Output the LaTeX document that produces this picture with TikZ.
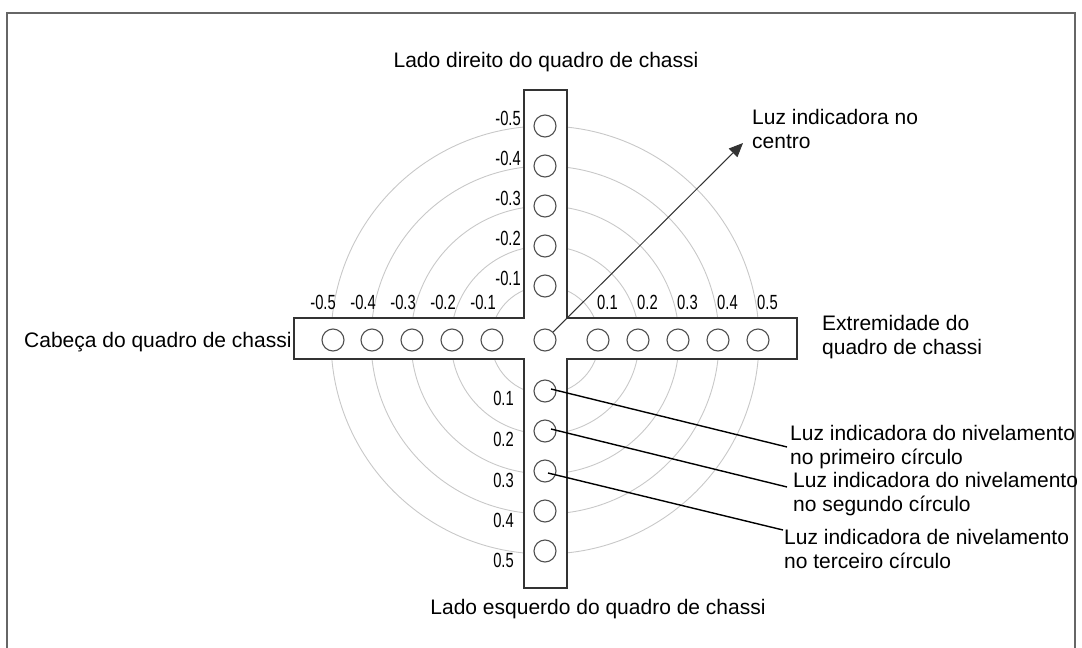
\documentclass[tikz,border=0pt]{standalone}
\usepackage{fontspec}
\setmainfont{Liberation Sans}
\newfontfamily\chsnarrow[FakeStretch=0.72]{Liberation Sans}
\usepackage{xcolor}
\usepackage{tikz}
\usetikzlibrary{arrows.meta,calc}
\definecolor{chsEdge}{HTML}{333333}
\definecolor{chsLampEdge}{HTML}{505050}
\definecolor{chsRing}{HTML}{C8C8C8}
\definecolor{chsFrame}{HTML}{666666}
\tikzset{
  chslamp/.style={circle,draw=chsLampEdge,line width=1.1pt,minimum size=22pt,inner sep=0pt},
  chsbar/.style={draw=chsEdge,line width=1.3pt,fill=white},
  chsring/.style={draw=chsRing,line width=0.9pt},
  chstxt/.style={font=\fontsize{21}{24.5}\selectfont,text=black,inner sep=0pt,align=left},
  chsnum/.style={font=\chsnarrow\fontsize{20.5}{20.5}\selectfont,text=black,inner sep=0pt},
  chslead/.style={draw=black,line width=1.4pt},
  chsarrow/.style={-{Triangle[length=14pt,width=12pt]},draw=chsEdge,line width=1pt},
  chsframe/.style={draw=chsFrame,line width=1.6pt},
}
\begin{document}
\begin{tikzpicture}[x=1pt,y=-1pt]
  \useasboundingbox (0,0) rectangle (1082,648);
  \draw[chsframe] (7,660) -- (7,13) -- (1075,13) -- (1075,660);

  % level rings round the centre lamp
  \foreach \r in {54,94,134,174,214}
    \draw[chsring] (545,340) circle[radius=\r pt];

  % chassis cross
  \draw[chsbar] (294,318) -- (524,318) -- (524,90) -- (567,90) -- (567,318) -- (797,318)
    -- (797,359) -- (567,359) -- (567,588) -- (524,588) -- (524,359) -- (294,359) -- cycle;

  % lamps
  \node[chslamp] (cc) at (545,340) {};
  \node[chslamp] (cl1) at (492,340) {};
  \node[chslamp] (cl2) at (452,340) {};
  \node[chslamp] (cl3) at (412,340) {};
  \node[chslamp] (cl4) at (372,340) {};
  \node[chslamp] (cl5) at (333,340) {};
  \node[chslamp] (cr1) at (598,340) {};
  \node[chslamp] (cr2) at (638,340) {};
  \node[chslamp] (cr3) at (678,340) {};
  \node[chslamp] (cr4) at (718,340) {};
  \node[chslamp] (cr5) at (758,340) {};
  \node[chslamp] (cu1) at (545,286) {};
  \node[chslamp] (cu2) at (545,246) {};
  \node[chslamp] (cu3) at (545,206) {};
  \node[chslamp] (cu4) at (545,166) {};
  \node[chslamp] (cu5) at (545,126) {};
  \node[chslamp] (cd1) at (545,391) {};
  \node[chslamp] (cd2) at (545,431) {};
  \node[chslamp] (cd3) at (545,471) {};
  \node[chslamp] (cd4) at (545,511) {};
  \node[chslamp] (cd5) at (545,551) {};

  % scale values
  \node[chsnum,anchor=east] (nl1) at (496,302) {-0.1};
  \node[chsnum,anchor=east] (nl2) at (456,302) {-0.2};
  \node[chsnum,anchor=east] (nl3) at (416,302) {-0.3};
  \node[chsnum,anchor=east] (nl4) at (376,302) {-0.4};
  \node[chsnum,anchor=east] (nl5) at (336,302) {-0.5};
  \node[chsnum,anchor=west] (nr1) at (597,302) {0.1};
  \node[chsnum,anchor=west] (nr2) at (637,302) {0.2};
  \node[chsnum,anchor=west] (nr3) at (677,302) {0.3};
  \node[chsnum,anchor=west] (nr4) at (717,302) {0.4};
  \node[chsnum,anchor=west] (nr5) at (757,302) {0.5};
  \node[chsnum,anchor=east] (nu1) at (521,278) {-0.1};
  \node[chsnum,anchor=east] (nu2) at (521,238) {-0.2};
  \node[chsnum,anchor=east] (nu3) at (521,198) {-0.3};
  \node[chsnum,anchor=east] (nu4) at (521,158) {-0.4};
  \node[chsnum,anchor=east] (nu5) at (521,118) {-0.5};
  \node[chsnum,anchor=east] (nd1) at (514,398) {0.1};
  \node[chsnum,anchor=east] (nd2) at (514,439) {0.2};
  \node[chsnum,anchor=east] (nd3) at (514,480) {0.3};
  \node[chsnum,anchor=east] (nd4) at (514,520) {0.4};
  \node[chsnum,anchor=east] (nd5) at (514,560) {0.5};

  % side names
  \node[chstxt] (tright) at (546,62) {Lado direito do quadro de chassi};
  \node[chstxt] (tleft) at (598,609) {Lado esquerdo do quadro de chassi};
  \node[chstxt,anchor=west] (thead) at (24,342) {Cabeça do quadro de chassi};
  \node[chstxt,anchor=west] (ttail) at (822,337) {Extremidade do\\quadro de chassi};

  % callouts
  \node[chstxt,anchor=west] (lc) at (752,129) {Luz indicadora no\\centro};
  \node[chstxt,anchor=west] (l1) at (790,447) {Luz indicadora do nivelamento\\no primeiro círculo};
  \node[chstxt,anchor=west] (l2) at (793,494) {Luz indicadora do nivelamento\\no segundo círculo};
  \node[chstxt,anchor=west] (l3) at (784,549) {Luz indicadora de nivelamento\\no terceiro círculo};

  \draw[chsarrow] (cc) -- ([xshift=-9pt,yshift=-14pt]lc.west);
  \draw[chslead] ([xshift=6pt,yshift=2pt]cd1.center) -- ([xshift=-3pt]l1.west);
  \draw[chslead] ([xshift=6pt,yshift=2pt]cd2.center) -- ([xshift=-6pt,yshift=7pt]l2.west);
  \draw[chslead] ([xshift=3pt,yshift=-2pt]cd3.center) -- ([xshift=-1pt,yshift=19pt]l3.west);
\end{tikzpicture}
\end{document}
